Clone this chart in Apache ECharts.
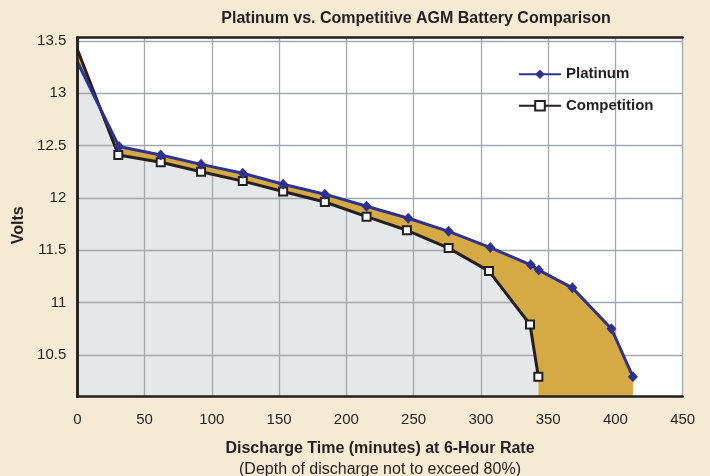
<!DOCTYPE html>
<html>
<head>
<meta charset="utf-8">
<script src="https://cdn.jsdelivr.net/npm/echarts@6/dist/echarts.min.js"></script>
<style>
html,body{margin:0;padding:0;background:#f5ead4;}
#c{width:710px;height:476px;}
</style>
</head>
<body>
<div id="c"></div>
<script>
// ---- data ----
const platMinutes = [0, 31, 62, 92, 123, 153, 184, 215, 246, 276, 307, 337, 343, 368, 397, 413];
const platVolts   = [13.3, 12.49, 12.41, 12.32, 12.235, 12.13, 12.035, 11.92, 11.805, 11.68, 11.525, 11.36, 11.31, 11.14, 10.75, 10.29];
const compMinutes = [0, 30.5, 62, 92, 123, 153, 184, 215, 245, 276, 306, 336.5, 342.7];
const compVolts   = [13.42, 12.41, 12.34, 12.25, 12.16, 12.06, 11.96, 11.82, 11.69, 11.52, 11.30, 10.79, 10.29];
const voltTicks   = [10.5, 11, 11.5, 12, 12.5, 13, 13.5];
const voltLabels  = ['10.5', '11', '11.5', '12', '12.5', '13', '13.5'];
const seriesNames = ['Platinum', 'Competition'];
const titleText = 'Platinum vs. Competitive AGM Battery Comparison';
const xTitle = 'Discharge Time (minutes) at 6-Hour Rate';
const xSubTitle = '(Depth of discharge not to exceed 80%)';
const yTitle = 'Volts';

const X_MIN = 0, X_MAX = 450, X_STEP = 50;
const Y_MIN = 10.1, Y_MAX = 13.53;

const BLUE = '#2e3192', BLACK = '#231f20', ORANGE = '#d5aa45', GRAY = '#e6e7e8', GRID = '#a5a7aa';
const FONT = '"Liberation Sans", Arial, sans-serif';

// first point of each curve is drawn without a marker
const pair = (xs, ys) => xs.map((x, i) => i === 0 ? {value: [x, ys[i]], symbol: 'none'} : [x, ys[i]]);
const platData = pair(platMinutes, platVolts);
const compData = pair(compMinutes, compVolts);

const chart = echarts.init(document.getElementById('c'), null, {renderer: 'canvas'});

const frameLine = {show: true, lineStyle: {color: BLACK, width: 2.5}};
const gridSplit = {show: true, lineStyle: {color: GRID, width: 1.3}};

chart.setOption({
  backgroundColor: '#f5ead4',
  animation: false,
  textStyle: {fontFamily: FONT},
  title: {
    text: titleText, left: 411, textAlign: 'center', top: 6,
    textStyle: {fontFamily: FONT, fontSize: 16, fontWeight: 'bold', color: BLACK}
  },
  legend: {
    data: seriesNames, orient: 'vertical', left: 518, top: 66.8, padding: 0,
    itemWidth: 42, itemHeight: 12, itemGap: 16.5,
    textStyle: {fontFamily: FONT, fontSize: 15, fontWeight: 'bold', color: BLACK, lineHeight: 14}
  },
  grid: {left: 77.3, top: 37.7, width: 605.4, height: 359, show: true, backgroundColor: '#ffffff', borderWidth: 0,
    containLabel: false, outerBoundsMode: 'none'},
  xAxis: [{
    type: 'value', min: X_MIN, max: X_MAX, interval: X_STEP, position: 'bottom', z: 6,
    axisLine: frameLine, axisTick: {show: false}, splitLine: {show: false},
    axisLabel: {fontFamily: FONT, fontSize: 15, color: BLACK, margin: 16},
    name: '{a|' + xTitle + '}\n{b|' + xSubTitle + '}', nameLocation: 'middle', nameGap: 41,
    nameTextStyle: {
      rich: {
        a: {fontFamily: FONT, fontSize: 16, fontWeight: 'bold', color: BLACK, lineHeight: 21.5},
        b: {fontFamily: FONT, fontSize: 16, color: BLACK, lineHeight: 21.5}
      }
    }
  }, {
    type: 'value', min: X_MIN, max: X_MAX, interval: X_STEP, position: 'top', z: 2,
    axisLine: frameLine, axisTick: {show: false}, axisLabel: {show: false}, splitLine: gridSplit
  }],
  yAxis: [{
    type: 'value', min: Y_MIN, max: Y_MAX, position: 'left', z: 6,
    axisLine: frameLine, axisTick: {show: false, customValues: voltTicks}, splitLine: {show: false},
    axisLabel: {fontFamily: FONT, fontSize: 15, color: BLACK, margin: 11, customValues: voltTicks,
      formatter: v => voltLabels[voltTicks.indexOf(Math.round(v * 10) / 10)] || ''},
    name: yTitle, nameLocation: 'middle', nameRotate: 90, nameGap: 36,
    nameTextStyle: {fontFamily: FONT, fontSize: 16, fontWeight: 'bold', color: BLACK, padding: [0, 16, 0, 0]}
  }, {
    type: 'value', min: Y_MIN, max: Y_MAX, position: 'right', z: 2,
    axisLine: frameLine, axisTick: {show: false, customValues: voltTicks}, axisLabel: {show: false, customValues: voltTicks},
    splitLine: gridSplit
  }],
  series: [{
    name: 'compArea', type: 'line', data: compData, xAxisIndex: 0, yAxisIndex: 0,
    symbol: 'none', lineStyle: {width: 0}, areaStyle: {color: GRAY, opacity: 1, origin: 'start'},
    silent: true, z: 1
  }, {
    name: 'gap', type: 'custom', xAxisIndex: 0, yAxisIndex: 0, data: [[X_MIN, Y_MIN]], silent: true, z: 3,
    renderItem: function (params, api) {
      const pts = [];
      for (let i = 0; i < platMinutes.length; i++) pts.push(api.coord([platMinutes[i], platVolts[i]]));
      pts.push(api.coord([platMinutes[platMinutes.length - 1], Y_MIN]));
      pts.push(api.coord([compMinutes[compMinutes.length - 1], Y_MIN]));
      for (let i = compMinutes.length - 1; i >= 0; i--) pts.push(api.coord([compMinutes[i], compVolts[i]]));
      return {type: 'polygon', shape: {points: pts}, style: {fill: ORANGE}};
    }
  }, {
    name: seriesNames[1], type: 'line', data: compData, xAxisIndex: 0, yAxisIndex: 0, z: 4,
    symbol: 'rect', symbolSize: 8, showAllSymbol: true,
    lineStyle: {color: BLACK, width: 3},
    itemStyle: {color: '#ffffff', borderColor: BLACK, borderWidth: 2}
  }, {
    name: seriesNames[0], type: 'line', data: platData, xAxisIndex: 0, yAxisIndex: 0, z: 5,
    symbol: 'diamond', symbolSize: [10, 11], showAllSymbol: true,
    lineStyle: {color: BLUE, width: 3},
    itemStyle: {color: BLUE}
  }]
});
</script>
</body>
</html>
